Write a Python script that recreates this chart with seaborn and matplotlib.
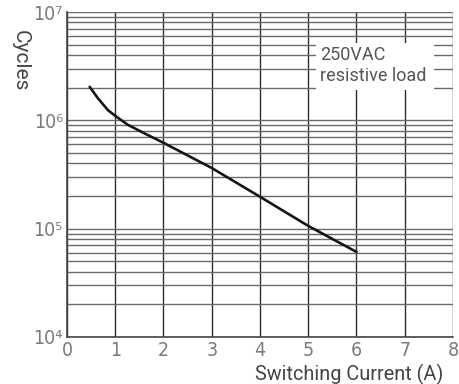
import numpy as np
import pandas as pd
import matplotlib
matplotlib.use("Agg")
import matplotlib.pyplot as plt
import matplotlib.ticker as mticker
from matplotlib.patches import Rectangle
import seaborn as sns

# data
current_a = [0.47, 0.64, 0.85, 1.0, 1.26, 1.6, 2.0, 3.0, 4.0, 5.0, 6.0]
cycles = [2.04e6, 1.6e6, 1.24e6, 1.1e6, 9.1e5, 7.6e5, 6.2e5,
          3.63e5, 1.97e5, 1.06e5, 6.1e4]
x_ticks = [0, 1, 2, 3, 4, 5, 6, 7, 8]
y_ticks = [1e4, 1e5, 1e6, 1e7]
y_tick_labels = ["10\u2074", "10\u2075", "10\u2076", "10\u2077"]
annotation = "250VAC\nresistive load"
x_label = "Switching Current (A)"
y_label = "Cycles"

sns.set_style("white")
plt.rcParams["font.family"] = ["Roboto", "DejaVu Sans"]

df = pd.DataFrame({"current": current_a, "cycles": cycles})

fig = plt.figure(figsize=(4.6, 3.84), dpi=100)
ax = fig.add_axes([67 / 460, 1 - 337 / 384, 386 / 460, 325 / 384])
ax.set_yscale("log")
ax.set_xlim(0, 8)
ax.set_ylim(1e4, 1e7)

sns.lineplot(data=df, x="current", y="cycles", ax=ax, color="#161616",
             linewidth=1.9, zorder=3)

ax.set_axisbelow(True)
ax.xaxis.set_major_locator(mticker.FixedLocator(x_ticks))
ax.yaxis.set_major_locator(mticker.FixedLocator(y_ticks))
ax.yaxis.set_minor_locator(mticker.LogLocator(base=10, subs=np.arange(2, 10)))
ax.yaxis.set_major_formatter(mticker.FixedFormatter(y_tick_labels))
ax.yaxis.set_minor_formatter(mticker.NullFormatter())
ax.grid(True, axis="x", which="major", color="#2e2e2e", linewidth=1.0)
ax.grid(True, axis="y", which="both", color="#6a6a6a", linewidth=1.0)

ax.tick_params(axis="both", which="both", length=0)
ax.tick_params(axis="x", pad=3, labelsize=14, labelcolor="#7a7a7a")
ax.tick_params(axis="y", pad=3, labelsize=14, labelcolor="#7a7a7a")
for lab in ax.get_xticklabels() + ax.get_yticklabels():
    lab.set_family("DejaVu Sans")
    lab.set_stretch("condensed")

for side in ["top", "right"]:
    ax.spines[side].set_visible(False)
for side in ["left", "bottom"]:
    ax.spines[side].set_color("#444444")
    ax.spines[side].set_linewidth(1.2)

ax.set_xlabel("")
ax.set_ylabel("")

ax.add_patch(Rectangle((0.645, 0.76), 0.306, 0.145, transform=ax.transAxes,
                       facecolor="white", edgecolor="none", zorder=2))
ax.text(0.656, 0.895, annotation, transform=ax.transAxes, ha="left", va="top",
        fontsize=13, color="#555555", linespacing=1.2, zorder=4)

fig.text(20 / 460, 1 - 61 / 384, y_label, rotation=270, ha="center",
         va="center", fontsize=15, color="#444444")
fig.text(349 / 460, 1 - 374 / 384, x_label, ha="center", va="center",
         fontsize=14.3, color="#444444")

fig.savefig("out.png", dpi=100)
